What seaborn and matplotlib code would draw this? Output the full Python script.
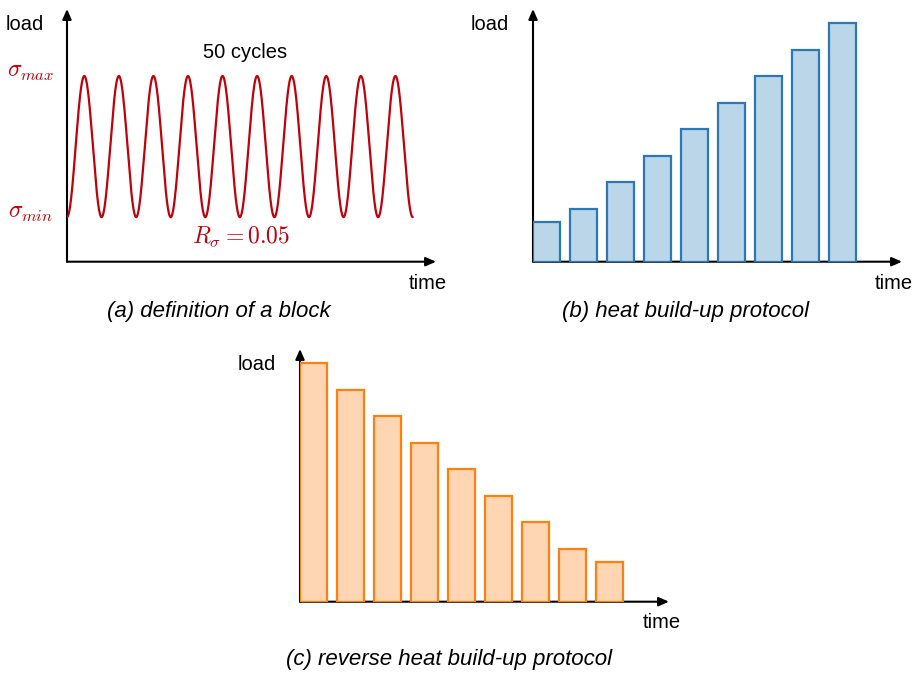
import numpy as np
import pandas as pd
import matplotlib
matplotlib.use("Agg")
import matplotlib.pyplot as plt
import seaborn as sns

sns.set_theme(style="white")
plt.rcParams["font.family"] = ["Liberation Sans", "DejaVu Sans"]
plt.rcParams["mathtext.fontset"] = "cm"
plt.rcParams["text.color"] = "black"

# ---------------- data ----------------
cycles_drawn = 10          # visible oscillations in the schematic block
sigma_max = 1.0
sigma_min = 0.24
block_labels = ["1", "2", "3", "4", "5", "6", "7", "8", "9"]
heat_buildup_loads = [1.5, 2, 3, 4, 5, 6, 7, 8, 9]
reverse_loads = [9, 8, 7, 6, 5, 4, 3, 2, 1.5]

# ---------------- style ----------------
W, H = 919, 673
RED = "#c0000a"
BLUE_FILL, BLUE_EDGE = "#bcd6e9", "#2a79b6"
ORANGE_FILL, ORANGE_EDGE = "#fed6b3", "#fd8010"
LBL = 14.5
CAP = 16
MATH = 17

fig = plt.figure(figsize=(W / 100, H / 100), dpi=100)
fig.patch.set_facecolor("white")


def add_ax(x0, x1, ybot, ytop):
    return fig.add_axes([x0 / W, 1 - ybot / H, (x1 - x0) / W, (ybot - ytop) / H])


def ptext(x, y, s, **kw):
    fig.text(x / W, 1 - y / H, s, ha="center", va="center", **kw)


def arrows(ax):
    ax.axis("off")
    kw = dict(xycoords="axes fraction", textcoords="axes fraction",
              arrowprops=dict(arrowstyle="-|>,head_length=0.5,head_width=0.22",
                              color="black", lw=1.5, shrinkA=0, shrinkB=0),
              zorder=1, annotation_clip=False)
    ax.annotate("", xy=(1, 0), xytext=(0, 0), **kw)
    ax.annotate("", xy=(0, 1), xytext=(0, 0), **kw)


# ---------------- (a) definition of a block ----------------
axa = add_ax(67, 436, 261.7, 9)
period_px = 34.57
t = np.linspace(0, cycles_drawn, 3000)
mid = (sigma_max + sigma_min) / 2
amp = (sigma_max - sigma_min) / 2
wave = pd.DataFrame({"t": t, "load": mid - amp * np.cos(2 * np.pi * t)})
sns.lineplot(data=wave, x="t", y="load", color=RED, lw=1.6, ax=axa, zorder=3)
axa.set_xlim(0, (436 - 67) / period_px)
axa.set_ylim(0, (261.7 - 9) / 185.7)
arrows(axa)

ptext(25, 24, "load", fontsize=LBL)
ptext(31, 72, r"$\sigma_{max}$", fontsize=MATH, color=RED)
ptext(31, 213, r"$\sigma_{min}$", fontsize=MATH, color=RED)
ptext(245, 53, "50 cycles", fontsize=LBL)
ptext(241, 237, r"$R_{\sigma} = 0.05$", fontsize=MATH, color=RED)
ptext(428, 283, "time", fontsize=LBL)
ptext(219, 311, "(a) definition of a block", fontsize=CAP, style="italic")

# ---------------- bar panels ----------------
SP = 37.0      # px between bar starts
BW = 27.0      # bar width px
UNIT = 26.5    # px per load unit


def bar_panel(x0, x1, ybot, ytop, loads, fill, edge):
    ax = add_ax(x0, x1, ybot, ytop)
    df = pd.DataFrame({"block": block_labels, "load": loads})
    sns.barplot(data=df, x="block", y="load", color=fill, edgecolor=edge,
                linewidth=1.6, width=BW / SP, saturation=1, ax=ax, zorder=2)
    left = -(BW / 2) / SP
    ax.set_xlim(left, left + (x1 - x0) / SP)
    ax.set_ylim(0, (ybot - ytop) / UNIT)
    arrows(ax)
    return ax


bar_panel(533, 902, 261.7, 9, heat_buildup_loads, BLUE_FILL, BLUE_EDGE)
ptext(490, 24, "load", fontsize=LBL)
ptext(894, 283, "time", fontsize=LBL)
ptext(686, 311, "(b) heat build-up protocol", fontsize=CAP, style="italic")

bar_panel(300, 669, 601.7, 349, reverse_loads, ORANGE_FILL, ORANGE_EDGE)
ptext(257, 365, "load", fontsize=LBL)
ptext(662, 623, "time", fontsize=LBL)
ptext(449, 660, "(c) reverse heat build-up protocol", fontsize=CAP, style="italic")

fig.savefig("out.png", dpi=100, facecolor="white")
